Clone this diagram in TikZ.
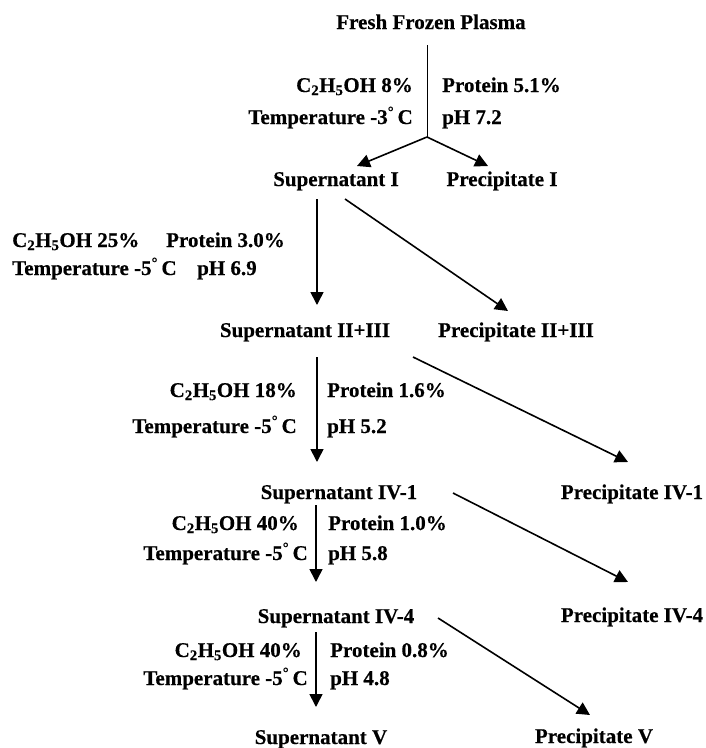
\documentclass[tikz,border=0pt]{standalone}
\usepackage{fontspec}
\setmainfont{Liberation Serif}[BoldFeatures={FakeBold=0.4}]
\usetikzlibrary{arrows.meta}
\newcommand{\etoh}{C\textsubscript{2}H\textsubscript{5}OH}
\newcommand{\dgC}{\textsuperscript{\textdegree}\,C}

\begin{document}
\begin{tikzpicture}[x=1pt,y=-1pt,
	stage/.style={font=\fontsize{21}{25}\selectfont\bfseries,text height=14pt,text depth=0pt,inner sep=0pt},
	cond/.style={stage},
	arr/.style={line width=1.6pt,-{Triangle[length=13pt,width=13pt]}}]
	\useasboundingbox (0,0) rectangle (706,748);
	% fractions
	\node[stage] (fresh) at (431,22) {Fresh Frozen Plasma};
	\coordinate (junc) at (427,137);
	\node[stage] (s1) at (336,179) {Supernatant I};
	\node[stage] (p1) at (502,179) {Precipitate I};
	\node[stage] (s23) at (305,330) {Supernatant II+III};
	\node[stage] (p23) at (516,330) {Precipitate II+III};
	\node[stage] (s41) at (339,492) {Supernatant IV-1};
	\node[stage] (p41) at (632,492) {Precipitate IV-1};
	\node[stage] (s44) at (336,616) {Supernatant IV-4};
	\node[stage] (p44) at (632,615) {Precipitate IV-4};
	\node[stage] (s5) at (321,737) {Supernatant V};
	\node[stage] (p5) at (594,736) {Precipitate V};
	% conditions
	\node[cond,anchor=east] (e1) at (413,85) {\etoh{} 8\%};
	\node[cond,anchor=east] (t1) at (413,117) {Temperature -3\dgC};
	\node[cond,anchor=west] (r1) at (442,85) {Protein 5.1\%};
	\node[cond,anchor=west] (h1) at (442,117) {pH 7.2};
	\node[cond,anchor=west] (e2) at (12,240) {\etoh{} 25\%};
	\node[cond,anchor=west] (t2) at (12,268) {Temperature -5\dgC};
	\node[cond,anchor=west] (r2) at (166,240) {Protein 3.0\%};
	\node[cond,anchor=west] (h2) at (197,268) {pH 6.9};
	\node[cond,anchor=east] (e3) at (297,390) {\etoh{} 18\%};
	\node[cond,anchor=east] (t3) at (297,426) {Temperature -5\dgC};
	\node[cond,anchor=west] (r3) at (327,390) {Protein 1.6\%};
	\node[cond,anchor=west] (h3) at (327,426) {pH 5.2};
	\node[cond,anchor=east] (e4) at (299,523) {\etoh{} 40\%};
	\node[cond,anchor=east] (t4) at (308,553) {Temperature -5\dgC};
	\node[cond,anchor=west] (r4) at (328,523) {Protein 1.0\%};
	\node[cond,anchor=west] (h4) at (328,553) {pH 5.8};
	\node[cond,anchor=east] (e5) at (302,650) {\etoh{} 40\%};
	\node[cond,anchor=east] (t5) at (308,678) {Temperature -5\dgC};
	\node[cond,anchor=west] (r5) at (330,650) {Protein 0.8\%};
	\node[cond,anchor=west] (h5) at (330,678) {pH 4.8};
	% arrows
	\draw[line width=1pt] ([shift={(-4,23)}]fresh.center) -- (junc);
	\draw[arr] (junc) -- ([shift={(21,-13)}]s1.center);
	\draw[arr] (junc) -- ([shift={(-14,-13)}]p1.center);
	\draw[arr] ([shift={(-19,20)}]s1.center) -- ([shift={(12,-25)}]s23.center);
	\draw[arr] ([shift={(9,20)}]s1.center) -- ([shift={(-8,-19)}]p23.center);
	\draw[arr] ([shift={(12,27)}]s23.center) -- ([shift={(-22,-30)}]s41.center);
	\draw[arr] ([shift={(108,27)}]s23.center) -- ([shift={(-4,-30)}]p41.center);
	\draw[arr] ([shift={(-23,13)}]s41.center) -- ([shift={(-20,-34)}]s44.center);
	\draw[arr] ([shift={(114,1)}]s41.center) -- ([shift={(-4,-33)}]p44.center);
	\draw[arr] ([shift={(-20,16)}]s44.center) -- ([shift={(-5,-30)}]s5.center);
	\draw[arr] ([shift={(102,2)}]s44.center) -- ([shift={(-4,-21)}]p5.center);
\end{tikzpicture}
\end{document}
